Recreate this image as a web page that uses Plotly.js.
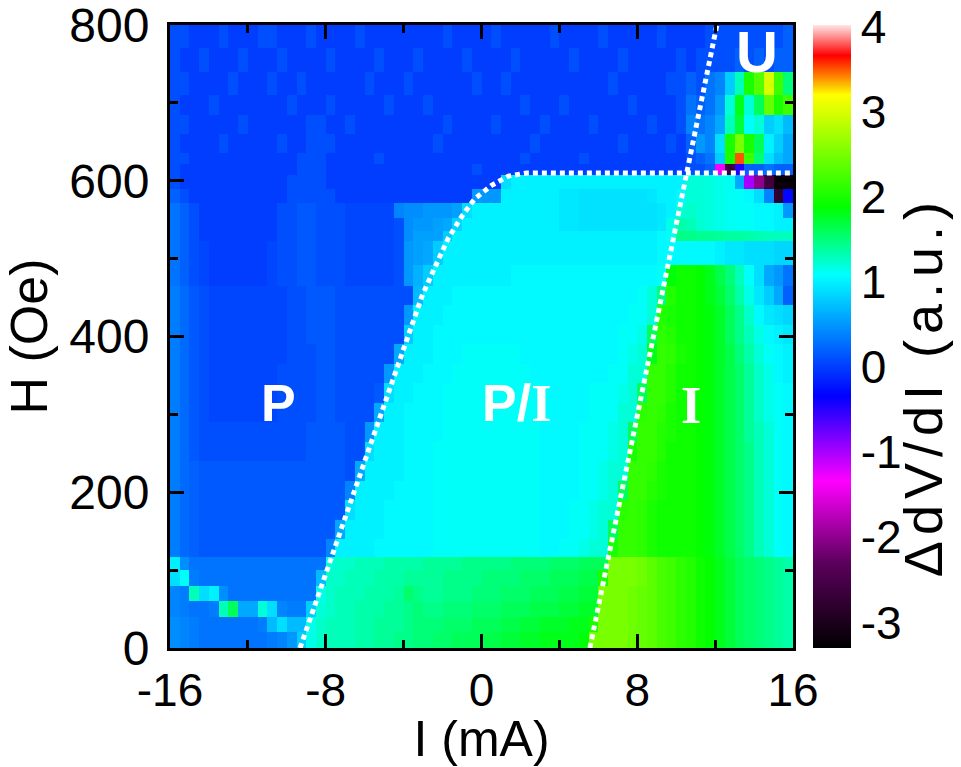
<!DOCTYPE html>
<html>
<head>
<meta charset="utf-8">
<script src="https://cdn.plot.ly/plotly-3.0.1.min.js"></script>
<style>html,body{margin:0;padding:0;background:#fff;}#chart{width:961px;height:767px;}</style>
</head>
<body>
<div id="chart"></div>
<script>
// ---- grid (cell edges) ----
const currentEdges = [-16,-15.5,-15,-14.5,-14,-13.5,-13,-12.5,-12,-11.5,-11,-10.5,-10,-9.5,-9,-8.5,
  -8,-7.5,-7,-6.5,-6,-5.5,-5,-4.5,-4,-3.5,-3,-2.5,-2,-1.5,-1,-0.5,
  0,0.5,1,1.5,2,2.5,3,3.5,4,4.5,5,5.5,6,6.5,7,7.5,
  8,8.5,9,9.5,10,10.5,11,11.5,12,12.5,13,13.5,14,14.5,15,15.5,16];
const fieldEdges = [0,20,40,60,80,100,117,140,165,190,215,240,265,290,315,340,365,390,415,440,465,
  492,522,535,552,571,590,607,622,635,660,685,710,740,770,800];

// ---- ΔdV/dI values, rows listed from top (800 Oe) to bottom (0 Oe) ----
const dvdiRowsTopDown = [
 [0.1,0.1,0,0,0,0.1,0,0, 0,0.1,0.1,0,0,0,0.1,0, 0,0,0,0.1,0,0,0,0, 0,0,0,0,0.1,0,0,0, 0,0.1,0,0,0,0,0,0.1, 0,0,0,0,0.1,0,0,0, 0,0,0.1,0,0,0,0,0.1, 0.1,0.1,0.1,0.1,0.1,0.1,0.1,0.2],
 [0.1,0,0,0.1,0,0,0,0.1, 0,0,0,0.1,0,0,0,0, 0.1,0,0,0,0,0.1,0,0, 0,0.1,0,0,0,0,0.1,0, 0,0,0,0.1,0,0,0,0, 0,0.1,0,0,0,0,0.1,0, 0,0,0,0,0.1,0,0.1,0.1, 0.1,0.1,0.2,0.1,0.2,0.1,0.2,0.2],
 [0.1,0.1,0,0,0,0,0.1,0, 0,0,0.1,0,0,0.1,0,0, 0,0,0,0,0.1,0,0,0, 0.1,0,0,0,0,0,0,0.1, 0,0,0.1,0,0,0,0,0, 0,0,0,0,0,0.1,0,0, 0,0,0,0.1,0.1,0.2,0.1,0.3, 0.4,0.8,1.3,2.0,2.3,3.0,2.2,1.5],
 [0.1,0,0,0,0.1,0,0,0, 0,0,0,0,0.1,0,0,0, 0.1,0,0,0,0,0,0.1,0, 0,0,0.1,0,0,0,0,0, 0,0,0,0,0.1,0,0,0, 0.1,0,0,0,0,0,0,0.1, 0,0,0,0,0.1,0.3,0.2,0.3, 0.5,1.2,1.8,1.2,1.6,2.4,2.0,2.2],
 [0.1,0.1,0,0,0,0,0,0.1, 0,0,0,0,0,0,0.1,0.1, 0,0,0.1,0,0,0,0,0, 0,0,0,0,0.1,0,0,0, 0,0.1,0,0,0,0,0.1,0, 0,0,0,0.1,0,0,0,0, 0,0.1,0,0,0.1,0.4,0.3,0.4, 0.6,1.3,1.7,1.1,1.2,0.8,0.9,0.7],
 [0.1,0,0,0,0,0.1,0,0, 0,0,0,0.1,0,0,0.1,0.1, 0.1,0,0,0,0,0,0,0, 0,0,0,0.1,0,0,0,0, 0,0,0,0,0,0.1,0,0, 0,0,0,0,0,0,0.1,0, 0,0,0,0.1,0,0.2,0.5,0.4, 0.9,2.0,2.5,2.0,1.6,1.0,0.8,0.6],
 [0.1,0.1,0,0,0,0,0,0, 0,0,0,0,0,0.1,0.1,0.1, 0,0,0,0,0,0.1,0,0, 0,0,0,0,0,0,0,0, 0,0,0,0,0.1,0,0,0, 0,0,0.1,0,0,0,0,0, 0,0,0,0,0,0.1,0.2,0.3, 0.8,2.0,3.5,2.2,1.5,0.9,0.7,0.6],
 [0.1,0,0,0,0,0,0,0, 0,0,0,0,0,0.1,0.1,0.1, 0,0,0,0,0,0,0,0, 0,0,0,0,0,0,0,0.1, 0,0,0,0,0,0,0,0, 0,0,0,0,0,0,0,0, 0,0,0,0,0,0.1,0.1,0.2, -1.3,-2.6,-0.5,0.2,0.2,0.3,0.2,0.2],
 [0.1,0,0,0,0,0,0,0, 0,0,0,0,0.1,0.1,0.1,0.1, 0,0,0,0,0,0,0,0, 0,0,0,0,0,0,0,0, 0,0,0.9,1.0,1.0,1.0,1.0,1.0, 1.0,1.0,1.0,1.0,1.0,1.0,1.0,1.0, 1.0,1.0,1.0,1.0,1.0,1.2,1.2,1.18, 1.15,1.12,0.6,-1.0,-2.0,-2.6,-3.2,-3.2],
 [0.2,0.1,0,0,0,0,0,0, 0,0,0,0,0.1,0.1,0.1,0.1, 0.1,0,0,0,0,0,0,0, 0,0,0,0,0,0,0,0.5, 0.5,0.5,1.0,1.0,1.0,1.0,1.0,1.0, 0.95,0.95,0.92,0.92,0.92,0.92,0.92,0.92, 0.92,0.95,1.0,1.0,1.05,1.2,1.2,1.18, 1.15,1.12,1.1,1.05,0.9,0.4,-2.8,-0.3],
 [0.3,0.2,0.1,0,0,0,0,0, 0,0,0,0.1,0.1,0.15,0.15,0.1, 0.1,0.1,0.05,0.05,0.05,0.05,0.05,0.4, 0.45,0.45,0.5,0.5,0.5,0.55,0.9,1.0, 1.0,1.0,1.0,1.0,1.0,1.0,1.0,1.0, 0.95,0.95,0.92,0.92,0.92,0.92,0.92,0.92, 0.92,0.92,0.95,1.0,1.2,1.25,1.2,1.18, 1.15,1.12,1.1,1.1,1.05,1.05,1.0,0.5],
 [0.3,0.2,0.1,0,0,0,0,0, 0,0,0,0.1,0.1,0.15,0.15,0.1, 0.1,0.1,0.05,0.05,0.05,0.05,0.05,0.1, 0.45,0.5,0.5,0.55,0.6,0.85,1.0,1.0, 1.0,1.0,1.0,1.0,1.0,1.0,1.0,1.0, 0.95,0.95,0.92,0.92,0.92,0.92,0.92,0.92, 0.92,0.92,0.95,1.15,1.35,1.3,1.22,1.18, 1.15,1.12,1.1,1.1,1.05,1.05,1.0,1.0],
 [0.3,0.2,0.1,0,0,0,0,0, 0,0,0,0.1,0.1,0.15,0.15,0.1, 0.1,0.1,0.05,0.05,0.05,0.05,0.05,0.1, 0.45,0.55,0.55,0.55,0.8,1.0,1.0,1.0, 1.0,1.0,1.0,1.0,1.0,1.0,1.0,1.0, 1.0,1.0,1.0,1.0,1.0,1.0,1.0,1.0, 1.0,1.0,1.05,1.1,1.45,1.45,1.42,1.42, 1.4,1.38,1.38,1.35,1.32,1.3,1.28,1.28],
 [0.3,0.2,0.1,0.05,0,0,0,0, 0,0,0.05,0.1,0.1,0.15,0.15,0.1, 0.1,0.1,0.05,0.05,0.05,0.05,0.05,0.1, 0.5,0.55,0.6,0.8,1.0,1.0,1.0,1.0, 1.0,1.0,1.0,1.0,1.0,1.0,1.0,1.0, 1.0,1.0,1.0,1.0,1.0,1.0,1.0,1.0, 1.0,1.0,1.05,1.05,1.05,1.05,1.05,1.05, 1.0,0.95,0.95,0.9,0.9,0.9,0.85,0.85],
 [0.3,0.2,0.1,0.05,0,0,0,0, 0,0,0.05,0.1,0.1,0.15,0.15,0.1, 0.1,0.1,0.05,0.05,0.05,0.05,0.05,0.1, 0.5,0.65,0.8,1.0,1.0,1.0,1.0,1.0, 1.0,1.0,1.0,1.05,1.05,1.05,1.05,1.05, 1.05,1.05,1.05,1.05,1.05,1.05,1.05,1.05, 1.05,1.05,1.1,1.85,1.95,1.95,1.9,1.8, 1.65,1.5,1.3,1.1,0.9,0.6,0.5,0.3],
 [0.35,0.25,0.15,0.1,0.05,0.05,0.05,0.05, 0.05,0.05,0.05,0.05,0.1,0.1,0.15,0.15, 0.15,0.1,0.1,0.1,0.1,0.1,0.1,0.1, 0.1,0.7,1.0,1.0,1.0,1.05,1.05,1.05, 1.05,1.05,1.05,1.05,1.05,1.05,1.05,1.05, 1.05,1.05,1.05,1.05,1.05,1.05,1.05,1.05, 1.1,1.2,1.5,2.05,1.95,1.95,1.9,1.8, 1.7,1.55,1.35,1.15,0.95,0.8,0.6,0.2],
 [0.35,0.25,0.15,0.1,0.05,0.05,0.05,0.05, 0.05,0.05,0.05,0.05,0.1,0.1,0.15,0.15, 0.15,0.1,0.1,0.1,0.1,0.1,0.1,0.1, 0.5,1.0,1.0,1.0,1.05,1.05,1.05,1.05, 1.05,1.05,1.05,1.05,1.05,1.05,1.05,1.05, 1.05,1.05,1.05,1.05,1.05,1.05,1.05,1.1, 1.1,1.2,2.05,2.0,1.95,1.95,1.9,1.85, 1.75,1.6,1.45,1.25,1.05,0.95,0.9,0.85],
 [0.35,0.25,0.15,0.1,0.05,0.05,0.05,0.05, 0.05,0.05,0.05,0.05,0.1,0.1,0.15,0.15, 0.15,0.1,0.1,0.1,0.1,0.1,0.1,0.1, 0.8,1.0,1.0,1.05,1.05,1.05,1.05,1.05, 1.05,1.05,1.05,1.05,1.05,1.05,1.05,1.05, 1.05,1.05,1.05,1.05,1.05,1.05,1.1,1.1, 1.15,1.6,2.1,2.05,1.95,1.95,1.9,1.85, 1.75,1.6,1.45,1.3,1.15,1.05,1.0,0.95],
 [0.35,0.25,0.15,0.1,0.05,0.05,0.05,0.05, 0.05,0.05,0.05,0.05,0.1,0.1,0.1,0.15, 0.15,0.1,0.1,0.1,0.1,0.1,0.1,0.6, 1.0,1.0,1.0,1.05,1.05,1.05,1.1,1.1, 1.1,1.1,1.1,1.1,1.05,1.05,1.05,1.05, 1.05,1.05,1.05,1.05,1.05,1.05,1.1,1.15, 1.2,1.8,2.15,2.1,2.0,1.95,1.9,1.85, 1.75,1.65,1.5,1.35,1.2,1.1,1.05,1.0],
 [0.35,0.25,0.15,0.1,0.05,0.05,0.05,0.05, 0.05,0.05,0.05,0.1,0.1,0.1,0.1,0.15, 0.15,0.1,0.1,0.1,0.1,0.1,0.5,1.0, 1.0,1.0,1.05,1.05,1.05,1.1,1.1,1.1, 1.1,1.1,1.1,1.1,1.1,1.05,1.05,1.05, 1.05,1.05,1.05,1.05,1.05,1.1,1.1,1.2, 1.2,2.15,2.15,2.05,1.95,1.95,1.9,1.85, 1.75,1.65,1.55,1.4,1.25,1.15,1.05,1.0],
 [0.35,0.25,0.15,0.1,0.05,0.05,0.05,0.05, 0.05,0.05,0.05,0.1,0.1,0.1,0.1,0.15, 0.15,0.1,0.1,0.1,0.1,0.15,0.9,1.0, 1.0,1.05,1.05,1.05,1.1,1.1,1.1,1.1, 1.1,1.1,1.1,1.1,1.1,1.1,1.05,1.05, 1.05,1.05,1.05,1.1,1.1,1.1,1.15,1.2, 1.6,2.15,2.15,2.05,1.95,1.95,1.9,1.85, 1.75,1.65,1.55,1.4,1.25,1.15,1.1,1.05],
 [0.35,0.25,0.15,0.1,0.05,0.05,0.05,0.05, 0.05,0.05,0.05,0.1,0.1,0.1,0.1,0.15, 0.15,0.1,0.1,0.1,0.1,0.6,1.0,1.0, 1.05,1.05,1.05,1.05,1.1,1.1,1.1,1.1, 1.1,1.1,1.1,1.1,1.1,1.1,1.05,1.05, 1.05,1.05,1.05,1.1,1.1,1.1,1.2,1.2, 2.1,2.15,2.1,2.0,1.95,1.95,1.9,1.85, 1.75,1.65,1.55,1.4,1.25,1.15,1.1,1.05],
 [0.35,0.25,0.15,0.1,0.1,0.1,0.1,0.1, 0.1,0.1,0.1,0.1,0.1,0.1,0.15,0.15, 0.15,0.15,0.1,0.1,0.5,1.0,1.0,1.0, 1.05,1.05,1.05,1.05,1.1,1.1,1.1,1.1, 1.1,1.1,1.1,1.1,1.1,1.1,1.05,1.05, 1.05,1.05,1.1,1.1,1.1,1.15,1.2,1.6, 2.15,2.15,2.05,2.0,1.95,1.95,1.9,1.85, 1.75,1.65,1.55,1.4,1.3,1.2,1.1,1.05],
 [0.35,0.25,0.15,0.1,0.1,0.1,0.1,0.1, 0.1,0.1,0.1,0.1,0.1,0.1,0.15,0.15, 0.15,0.15,0.1,0.1,0.9,1.0,1.0,1.0, 1.05,1.05,1.05,1.1,1.1,1.1,1.1,1.1, 1.1,1.1,1.1,1.1,1.1,1.1,1.05,1.05, 1.05,1.05,1.1,1.1,1.1,1.15,1.2,2.0, 2.15,2.15,2.05,1.95,1.95,1.95,1.9,1.85, 1.75,1.65,1.55,1.45,1.3,1.2,1.1,1.05],
 [0.35,0.25,0.2,0.15,0.15,0.15,0.15,0.15, 0.15,0.15,0.15,0.15,0.15,0.15,0.15,0.15, 0.15,0.15,0.1,0.6,1.0,1.0,1.0,1.0, 1.05,1.05,1.05,1.1,1.1,1.1,1.1,1.1, 1.1,1.1,1.1,1.1,1.1,1.1,1.05,1.05, 1.05,1.05,1.1,1.1,1.15,1.2,1.2,2.15, 2.15,2.1,2.0,1.95,1.95,1.95,1.9,1.85, 1.75,1.65,1.55,1.45,1.3,1.2,1.1,1.05],
 [0.35,0.25,0.2,0.15,0.15,0.15,0.15,0.15, 0.15,0.15,0.15,0.15,0.15,0.15,0.15,0.15, 0.15,0.15,0.4,1.0,1.0,1.0,1.0,1.05, 1.05,1.05,1.05,1.1,1.1,1.1,1.1,1.1, 1.1,1.1,1.1,1.1,1.1,1.1,1.05,1.05, 1.05,1.05,1.1,1.1,1.15,1.2,1.6,2.15, 2.15,2.05,2.0,1.95,1.95,1.95,1.9,1.85, 1.75,1.65,1.55,1.45,1.3,1.2,1.1,1.05],
 [0.35,0.25,0.2,0.15,0.15,0.15,0.15,0.15, 0.15,0.15,0.15,0.15,0.15,0.15,0.15,0.15, 0.15,0.15,0.9,1.0,1.0,1.0,1.05,1.05, 1.05,1.05,1.05,1.1,1.1,1.1,1.1,1.1, 1.1,1.1,1.1,1.1,1.1,1.1,1.05,1.05, 1.05,1.1,1.1,1.15,1.2,1.2,2.1,2.15, 2.1,2.0,1.95,1.95,1.95,1.95,1.9,1.85, 1.75,1.65,1.55,1.45,1.3,1.2,1.1,1.05],
 [0.35,0.25,0.2,0.15,0.15,0.15,0.15,0.15, 0.15,0.15,0.15,0.15,0.15,0.15,0.15,0.15, 0.15,0.6,1.0,1.0,1.0,1.0,1.05,1.05, 1.05,1.05,1.05,1.1,1.1,1.1,1.1,1.1, 1.1,1.1,1.1,1.1,1.1,1.1,1.05,1.05, 1.05,1.1,1.1,1.15,1.2,1.6,2.15,2.15, 2.1,2.0,1.95,1.95,1.95,1.95,1.9,1.85, 1.75,1.65,1.55,1.45,1.3,1.2,1.1,1.05],
 [0.35,0.25,0.2,0.15,0.15,0.15,0.15,0.15, 0.15,0.15,0.15,0.15,0.15,0.15,0.15,0.15, 0.4,1.0,1.0,1.0,1.0,1.05,1.05,1.05, 1.05,1.05,1.05,1.1,1.1,1.1,1.1,1.1, 1.1,1.1,1.1,1.1,1.1,1.1,1.05,1.05, 1.1,1.1,1.15,1.2,1.2,2.0,2.15,2.15, 2.1,2.0,1.95,1.95,1.95,1.95,1.9,1.85, 1.75,1.65,1.55,1.45,1.3,1.2,1.1,1.05],
 [1.0,0.45,0.3,0.3,0.3,0.3,0.3,0.3, 0.3,0.3,0.3,0.3,0.3,0.3,0.3,0.3, 1.2,1.25,1.25,1.3,1.3,1.3,1.35,1.35, 1.35,1.35,1.4,1.4,1.4,1.4,1.45,1.45, 1.45,1.45,1.45,1.5,1.5,1.5,1.5,1.55, 1.55,1.55,1.6,1.6,1.6,2.5,2.5,2.5, 2.45,2.35,2.25,2.2,2.1,2.05,1.95,1.9, 1.8,1.7,1.6,1.55,1.5,1.45,1.4,1.35],
 [0.9,1.1,0.35,0.3,0.3,0.3,0.3,0.3, 0.3,0.3,0.3,0.3,0.3,0.3,0.3,0.7, 1.25,1.25,1.3,1.3,1.3,1.35,1.35,1.35, 1.4,1.4,1.4,1.4,1.45,1.45,1.45,1.45, 1.5,1.5,1.5,1.5,1.55,1.55,1.55,1.6, 1.6,1.6,1.65,1.65,2.0,2.5,2.5,2.5, 2.45,2.35,2.25,2.2,2.1,2.05,1.95,1.9, 1.8,1.7,1.6,1.55,1.5,1.45,1.4,1.35],
 [0.4,0.35,1.3,0.9,1.0,0.45,0.3,0.3, 0.3,0.3,0.3,0.3,0.3,0.3,0.3,1.15, 1.25,1.3,1.3,1.3,1.35,1.35,1.35,1.4, 1.55,1.45,1.4,1.4,1.45,1.45,1.45,1.5, 1.5,1.5,1.55,1.55,1.55,1.6,1.6,1.6, 1.65,1.65,1.7,1.7,2.5,2.5,2.5,2.45, 2.4,2.35,2.25,2.2,2.1,2.05,1.95,1.9, 1.8,1.7,1.6,1.55,1.5,1.45,1.4,1.35],
 [0.4,0.35,0.3,0.3,0.35,1.3,1.6,0.6, 0.6,1.2,0.9,0.4,0.35,0.35,0.8,1.2, 1.25,1.3,1.3,1.35,1.35,1.35,1.4,1.4, 1.45,1.5,1.45,1.45,1.5,1.5,1.5,1.55, 1.55,1.55,1.6,1.6,1.6,1.65,1.65,1.65, 1.7,1.7,1.75,1.75,2.5,2.5,2.5,2.45, 2.4,2.35,2.25,2.2,2.1,2.05,1.95,1.9, 1.8,1.7,1.6,1.55,1.5,1.45,1.4,1.35],
 [0.45,0.4,0.35,0.3,0.3,0.3,0.3,0.3, 0.3,0.35,0.7,0.9,0.7,0.7,1.15,1.25, 1.3,1.3,1.3,1.35,1.35,1.4,1.4,1.4, 1.45,1.5,1.5,1.5,1.55,1.55,1.55,1.6, 1.6,1.6,1.65,1.65,1.7,1.7,1.75,1.75, 1.75,1.8,1.8,2.0,2.5,2.5,2.5,2.45, 2.4,2.35,2.25,2.2,2.1,2.05,1.95,1.9, 1.8,1.7,1.6,1.55,1.5,1.45,1.4,1.35],
 [0.45,0.4,0.35,0.3,0.3,0.3,0.3,0.3, 0.3,0.3,0.35,0.4,0.5,0.8,1.15,1.25, 1.3,1.3,1.3,1.35,1.35,1.4,1.4,1.45, 1.45,1.5,1.5,1.55,1.55,1.6,1.6,1.6, 1.65,1.65,1.7,1.7,1.75,1.75,1.8,1.8, 1.8,1.8,1.85,2.5,2.5,2.5,2.5,2.45, 2.4,2.35,2.25,2.2,2.1,2.05,1.95,1.9, 1.8,1.7,1.6,1.55,1.5,1.45,1.4,1.35]
];

// ---- phase boundaries (dotted lines) ----
const boundaryP_I = [-9.32,-3.52,-3.07,-2.39,-1.71,-1.02,-0.34,0.52,1.38,2.32,16];
const boundaryP_H = [0,421,451,489,526,554,577,594,606,610,610];
const boundaryI_I = [5.57,12.09];
const boundaryI_H = [0,800];

// ---- region labels ----
const regionText = ['P', 'P/<span style="font-family:\'Liberation Serif\',serif">I</span>', 'I', 'U'];
const regionI = [-10.45, 1.82, 10.75, 14.15];
const regionH = [314, 314, 312, 766];

// ---- ticks ----
const xTickVals = [-16,-8,0,8,16];
const xTickText = ['-16','-8','0','8','16'];
const xMinorVals = [-12,-4,4,12];
const yTickVals = [0,200,400,600,800];
const yTickText = ['0','200','400','600','800'];
const yMinorVals = [100,300,500,700];
const cbTickVals = [-3,-2,-1,0,1,2,3,4];
const cbTickText = ['-3','-2','-1','0','1','2','3','4'];

const zMin = -3.3, zMax = 4.02;
const colorStops = [[-3.3,'#000000'],[-2.3,'#5c005c'],[-1.34,'#ff00ff'],[-0.34,'#0000ff'],[1.08,'#00ffff'],[1.88,'#00ff00'],[3.2,'#ffff00'],[3.42,'#ff8000'],[3.66,'#ff0000'],[4.02,'#ffe6e6']];
const colorscale = colorStops.map(s => [(s[0]-zMin)/(zMax-zMin), s[1]]);

const z = dvdiRowsTopDown.slice().reverse();
const FONT = 'Liberation Sans, Arial, Helvetica, sans-serif';

const traces = [
  {type:'heatmap', x: currentEdges, y: fieldEdges, z: z, zmin: zMin, zmax: zMax,
   colorscale: colorscale, zsmooth: false, hoverinfo: 'skip',
   colorbar: {x: 1.032, xanchor: 'left', xpad: 0, y: 0.5, yanchor: 'middle', len: 1, lenmode: 'fraction',
     ypad: 0, thickness: 38, outlinewidth: 0, tickmode: 'array', tickvals: cbTickVals, ticktext: cbTickText,
     ticks: '', ticklen: 0, tickfont: {family: FONT, size: 46, color: '#000'}}},
  {type:'scatter', mode:'lines', x: boundaryP_I, y: boundaryP_H, hoverinfo:'skip', showlegend:false,
   line: {color:'#ffffff', width: 5, dash: '5px,4px'}},
  {type:'scatter', mode:'lines', x: boundaryI_I, y: boundaryI_H, hoverinfo:'skip', showlegend:false,
   line: {color:'#ffffff', width: 5, dash: '5px,4px'}}
];

const annotations = regionText.map((t, i) => ({
  x: regionI[i], y: regionH[i], xref: 'x', yref: 'y', text: '<b>' + t + '</b>', showarrow: false,
  font: {family: (t === 'I') ? 'Liberation Serif, serif' : FONT, size: (t === 'U') ? 58 : 52, color: '#ffffff'},
  xanchor: 'center', yanchor: 'middle'
}));
annotations.push({x: 1.21, y: 0.42, xref: 'paper', yref: 'paper',
  text: '<span style="letter-spacing:6px">ΔdV/dI (a.u.)</span>', textangle: -90,
  showarrow: false, font: {family: FONT, size: 54, color: '#000'}, xanchor: 'center', yanchor: 'middle'});

const axisCommon = {showgrid: false, zeroline: false, showline: true, linewidth: 3, linecolor: '#000',
  mirror: 'allticks', ticks: 'inside', ticklen: 14, tickwidth: 3, tickcolor: '#000',
  tickfont: {family: FONT, size: 48, color: '#000'}, ticklabeloverflow: 'allow', fixedrange: true};

const layout = {
  width: 961, height: 767, paper_bgcolor: '#fff', plot_bgcolor: '#fff',
  margin: {l: 170, r: 168, t: 25, b: 119, pad: 0},
  showlegend: false,
  xaxis: Object.assign({}, axisCommon, {range: [-16, 16], tickmode: 'array', tickvals: xTickVals, ticktext: xTickText,
    minor: {tickmode: 'array', tickvals: xMinorVals, ticks: 'inside', ticklen: 8, tickwidth: 3, tickcolor: '#000'},
    ticklabelstandoff: 0, tickfont: {family: FONT, size: 46, color: '#000'},
    title: {text: 'I (mA)', font: {family: FONT, size: 50, color: '#000'}, standoff: 9}}),
  yaxis: Object.assign({}, axisCommon, {range: [0, 800], tickmode: 'array', tickvals: yTickVals, ticktext: yTickText,
    minor: {tickmode: 'array', tickvals: yMinorVals, ticks: 'inside', ticklen: 8, tickwidth: 3, tickcolor: '#000'},
    ticklabelstandoff: 8,
    title: {text: 'H (Oe)', font: {family: FONT, size: 52, color: '#000'}, standoff: 10}}),
  annotations: annotations
};

Plotly.newPlot('chart', traces, layout, {displayModeBar: false, staticPlot: true});
</script>
</body>
</html>
